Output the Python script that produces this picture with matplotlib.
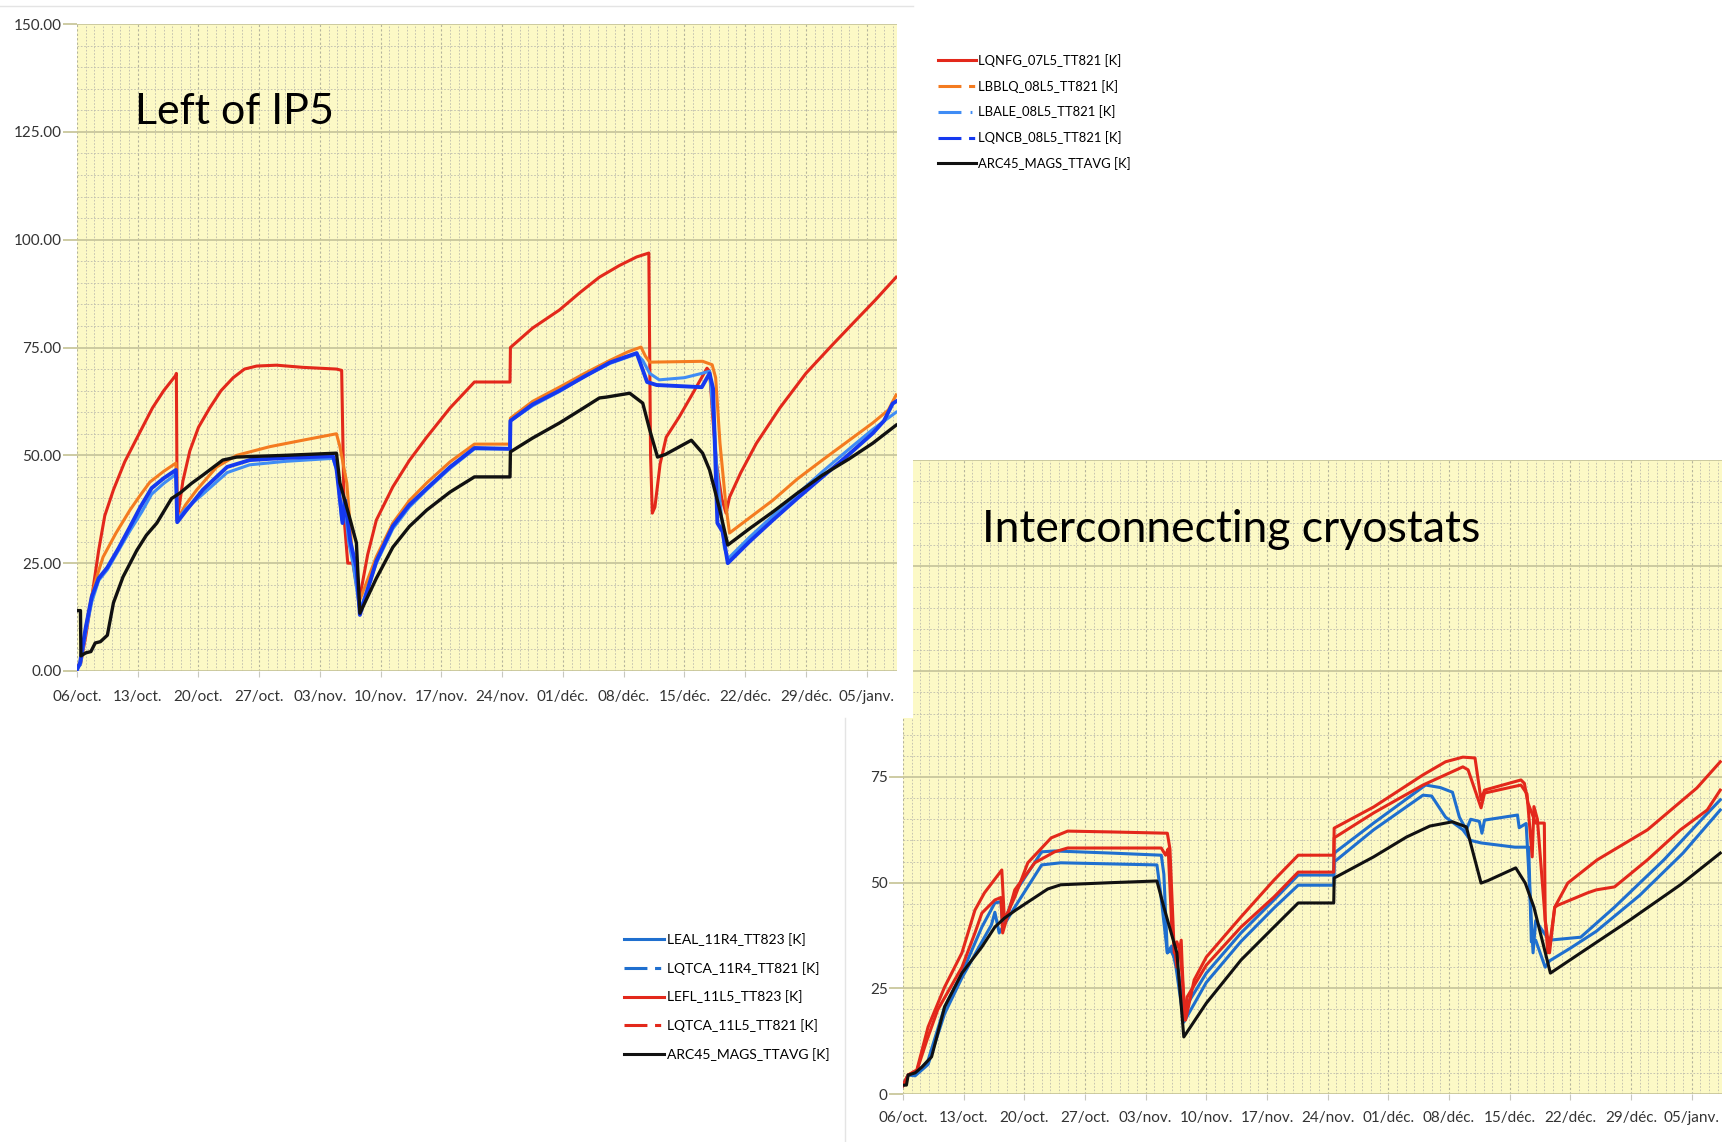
import numpy as np
import matplotlib
matplotlib.use('Agg')
import matplotlib.pyplot as plt
from matplotlib.lines import Line2D
from matplotlib.patches import Rectangle

W, H = 1731, 1142

week_labels = ['06/oct.', '13/oct.', '20/oct.', '27/oct.', '03/nov.', '10/nov.', '17/nov.',
               '24/nov.', '01/déc.', '08/déc.', '15/déc.', '22/déc.', '29/déc.', '05/janv.']

# ─── Left of IP5 (days since 06/oct., temperature in K)
#
lqnfg_days = [0, 0.4, 1.0, 1.7, 2.5, 3.2, 4.2, 5.5, 6.9, 8.7, 10.0, 11.4, 11.45, 11.55, 12.2, 13, 14,
              15.3, 16.6, 18, 19.3, 20.7, 23, 26, 29.9, 30.5, 30.8, 31.2, 31.8, 32.2, 32.6, 33.5,
              34.5, 36.4, 38.3, 40.3, 43, 45.8, 49.9, 49.95, 52.5, 55.6, 58, 60.2, 62.5, 64.5, 65.9,
              66.1, 66.3, 66.6, 67.2, 67.9, 69.4, 71, 72.6, 72.9, 73.3, 73.7, 74.3, 74.8, 75.2, 76.5,
              78.3, 81, 84, 87, 89.8, 92, 94.4]
lqnfg_vals = [1, 1.5, 8, 17, 28, 36, 42, 48.5, 54, 61, 65, 68.6, 69, 35, 44, 51, 56.5,
              61, 65, 68, 70, 70.7, 70.9, 70.4, 70, 69.7, 35, 25, 25, 20, 17.2, 27,
              35, 42.7, 48.8, 54.2, 61, 67, 67, 75, 79.5, 83.7, 87.8, 91.3, 94, 96, 96.9,
              50, 36.6, 38, 48, 54.2, 58.9, 64.5, 70.2, 69.5, 58, 48, 40, 36.6, 40.3, 46,
              52.8, 61, 69, 75.5, 81.4, 86, 91.3]

lbblq_days = [0, 0.4, 1.0, 1.7, 2.3, 3.0, 4.5, 6.1, 7.2, 8.4, 10, 11.4, 11.55, 12.5, 13.8, 16.1,
              18.4, 22.2, 26, 29.9, 30.3, 31.1, 31.8, 32.6, 34.5, 36.4, 38.3, 40.3, 43, 45.8,
              49.9, 49.95, 52.5, 55.6, 58.5, 61.4, 63.5, 65, 65.5, 66, 69, 72.1, 73.2, 73.6,
              74.1, 74.8, 75.2, 77.5, 80.2, 83, 85.9, 89, 91.7, 93.5, 94.4]
lbblq_vals = [1, 2, 10, 17.5, 22, 26.4, 32, 37.3, 40.5, 43.8, 46.3, 48.2, 35, 38.5, 42, 47.3,
              50, 52, 53.5, 55, 52, 43.5, 25, 16.5, 26.5, 34.3, 39.5, 43.6, 48.5, 52.6,
              52.6, 58.6, 62.5, 65.8, 69, 72, 74, 75.1, 73, 71.6, 71.7, 71.8, 71, 68,
              52.8, 38, 32, 35.5, 39.6, 44.5, 48.9, 53.5, 57.5, 60.5, 64]

lbale_days = [0, 0.4, 1.0, 1.7, 2.5, 3.5, 4.8, 6.1, 7.5, 8.6, 10, 11.4, 11.55, 12.5, 14.5, 17.3,
              19.9, 24, 29.5, 30.0, 30.5, 30.8, 31.3, 31.8, 32.6, 34.5, 36.4, 38.3, 40.3, 43,
              45.8, 49.9, 49.95, 52.5, 55.6, 58.5, 61.4, 64.5, 65.2, 66, 67.1, 70, 72, 72.9,
              73.5, 73.7, 74.6, 75.0, 77.5, 80.2, 83, 85.9, 89, 91.7, 94.4]
lbale_vals = [0.5, 1.5, 9, 16, 21, 23.5, 28, 32.5, 37, 41, 43.5, 45.6, 35, 37.5, 41, 46,
              47.8, 48.6, 49.3, 46, 35, 40, 30, 25, 14, 25, 33, 38, 42, 47,
              51.5, 51.5, 58, 61.5, 64.8, 68.3, 71.3, 73.5, 72, 69, 67.5, 68, 69, 69.5,
              55, 48, 28.7, 26, 31, 36, 41, 46.2, 51.5, 56, 60]

lqncb_days = [0, 0.35, 1.0, 1.7, 2.5, 3.5, 4.8, 6.1, 7.3, 8.6, 10, 11.4, 11.55, 12.5, 14.5, 17.3,
              19.9, 24, 29.5, 29.9, 30.6, 30.9, 31.5, 32.2, 32.6, 34.5, 36.4, 38.3, 40.3, 43,
              45.8, 49.9, 49.95, 52.5, 55.6, 58.5, 61.4, 64.5, 65.2, 65.7, 66.8, 72, 72.9, 73.3,
              73.8, 74.4, 75.0, 77.5, 80.2, 83, 85.9, 89, 91.7, 93, 94, 94.4]
lqncb_vals = [0.3, 1.9, 10, 17.2, 21.5, 24, 28.5, 33.4, 38, 42.4, 44.7, 46.6, 34.5, 37, 42, 47.3,
              48.9, 49.4, 49.8, 47, 34.3, 39.6, 30, 24, 13, 25.5, 33.6, 38.5, 42.3, 47.3,
              51.7, 51.5, 58, 61.8, 65, 68.3, 71.5, 73.7, 69.8, 67, 66.3, 65.8, 69, 65.5,
              34.3, 32.3, 25, 30, 35, 40, 45, 50.3, 55.1, 58, 62, 62.5]

arc1_days = [0, 0.4, 0.45, 1.0, 1.6, 2.1, 2.7, 3.5, 4.2, 5.3, 6.9, 8.0, 9.2, 10.9, 11.9, 13.2,
             14.5, 16.8, 18.4, 24, 29.9, 30.3, 31.4, 32.2, 32.6, 34.5, 36.4, 38.3, 40.3, 43,
             45.8, 49.9, 49.95, 52.5, 55.6, 58, 60.2, 61, 63.7, 65.2, 66, 66.9, 67.8, 70.8,
             72.1, 72.9, 74, 75, 77.5, 80.2, 83, 85.9, 89, 91.7, 94.4]
arc1_vals = [14, 14, 3.5, 4.2, 4.5, 6.5, 6.8, 8.3, 15.8, 21.8, 28, 31.5, 34.3, 40, 41.3, 43.5,
             45.4, 48.9, 49.6, 50, 50.5, 43.6, 35.7, 29.7, 13.4, 21.5, 28.7, 33.5, 37.3, 41.5,
             45, 45, 50.8, 54, 57.5, 60.5, 63.3, 63.5, 64.4, 62.1, 55.9, 49.6, 50.2, 53.5,
             50.5, 46.6, 38, 29.2, 33, 36.9, 41.2, 45.4, 49.2, 52.8, 57]

# ─── Interconnecting cryostats
#
arc2_days = [0, 0.4, 0.6, 1.4, 2.2, 3.3, 4.8, 6.8, 9.1, 10.6, 11.7, 13, 14.4, 16.7, 18.2, 24,
             29.3, 30.1, 31.6, 32.4, 35, 39, 42.8, 45.6, 49.7, 49.75, 54.3, 58.1, 60.8, 63.4,
             65, 65.7, 66.7, 67.5, 70.7, 71.8, 72.8, 74.7, 78.2, 83.9, 89.7, 94.3]
arc2_vals = [2.1, 2.1, 4.5, 5, 6.4, 8.8, 20.6, 28.6, 34.8, 39.5, 41.6, 43.5, 45.4, 48.5, 49.5, 50,
             50.4, 44.2, 33.4, 13.5, 21.5, 31.7, 39.5, 45.2, 45.2, 51.1, 56.1, 60.8, 63.4, 64.4,
             63.2, 57.7, 49.9, 50.5, 53.5, 49.9, 44.2, 28.6, 33.4, 41.2, 49.5, 57]

lefl_days = [0, 0.6, 1.6, 2.9, 4.8, 6.8, 8.3, 9.4, 11.4, 11.7, 12.9, 14.4, 17.1, 19, 24, 30.5,
             30.8, 31.3, 31.6, 32.0, 32.6, 33.6, 35, 39, 42.8, 45.6, 49.7, 49.75, 54.3, 60,
             62.6, 64.6, 66, 66.7, 67.1, 71.3, 71.7, 72.1, 73, 74, 74.1, 74.6, 75.2, 76.7,
             80.1, 85.9, 91.6, 94.3]
lefl_vals = [2, 4.5, 5.7, 15.9, 25.3, 33.4, 43.5, 47.6, 53, 41.2, 46.6, 54.7, 60.6, 62.2, 62, 61.7,
             58, 33.4, 36, 33.4, 17.5, 27, 32.4, 41.9, 50.6, 56.5, 56.5, 62.9, 67.9, 75.5,
             78.6, 79.7, 79.5, 69.6, 71.9, 74.3, 73.5, 68.9, 64.1, 64.1, 41.2, 33.4, 44.2, 49.9,
             55.4, 62.5, 72.4, 78.6]

lqtca_l_days = [0, 0.6, 1.6, 2.8, 4, 6.8, 8.3, 9.1, 10.6, 11.3, 11.5, 12.9, 15.2, 17.5, 19, 29.8,
                30.3, 30.6, 31.0, 31.6, 32.1, 32.2, 32.5, 32.8, 35, 39, 42.8, 45.6, 49.7, 49.75,
                54.3, 60, 64.6, 65.2, 66.7, 67.1, 71.3, 72.0, 72.6, 72.8, 73.2, 74.4, 74.8, 75.2,
                75.6, 79, 80, 82.1, 85.9, 89.7, 92.8, 94.3]
lqtca_l_vals = [2, 4.5, 5.5, 13, 19.9, 30, 38.1, 42.8, 45.9, 46.5, 38.1, 48.3, 54.7, 57.3, 58.2, 58.2,
                56.5, 58, 40, 30, 36.4, 31, 17.5, 23, 30.5, 39.5, 46.6, 52.5, 52.5, 60.6,
                66.5, 73.1, 77.4, 76.7, 67.7, 71.2, 73.1, 71, 56.1, 68, 65, 33.4, 38, 44.2,
                44.7, 47.6, 48.3, 49, 55.4, 62.5, 67.2, 71.9]

leal_days = [0, 0.6, 1.4, 2.9, 4.8, 6.8, 9.1, 10.6, 11.3, 11.5, 12.9, 16, 17.5, 24, 29.8, 30.1,
             30.5, 30.9, 31.6, 32.4, 35, 39, 42.8, 45.6, 49.7, 49.75, 54.3, 60.3, 62, 63.4,
             64.2, 65, 65.5, 66.5, 66.8, 67.1, 70.9, 71.1, 71.9, 72.5, 72.7, 73.0, 74.0, 74.6,
             78.2, 82.1, 87.8, 92.4, 94.3]
leal_vals = [2, 4.5, 4.5, 8, 20.6, 28.6, 39.5, 45.2, 45.5, 39.5, 47.6, 57.3, 57.5, 57, 56.5, 52,
             33.4, 34, 31, 19.9, 28.6, 38.1, 45.9, 51.8, 51.8, 57, 64.1, 73.1, 72.5, 71.4,
             65.5, 62.5, 65, 64.5, 61.7, 64.8, 66, 63, 64, 41.2, 33.4, 41, 38, 36.4,
             37.1, 44.2, 55.4, 65.5, 69.6]

lqtca_r_days = [0, 0.6, 1.4, 2.9, 4.8, 6.8, 9.1, 10.2, 10.6, 11.1, 12.9, 16, 18.2, 29.3, 29.7,
                30.5, 31, 31.5, 32.4, 35, 39, 42.8, 45.6, 49.7, 49.75, 54.3, 60, 61, 62.6, 64.6,
                65.5, 66.7, 70.6, 72.2, 72.5, 73, 74.1, 74.6, 77, 80, 85, 90, 94.3]
lqtca_r_vals = [2, 4.5, 4.3, 7, 19, 27.5, 36, 40, 43, 38.1, 44.2, 54.2, 54.7, 54.2, 48,
                33.4, 35, 30, 17, 26.4, 36.1, 44, 49.4, 49.4, 54.9, 62.5, 70.7, 70.5, 65.5, 62.5,
                60, 59.4, 58.4, 58.4, 36, 36.4, 30, 31.5, 34.5, 38.5, 47, 57, 67.2]

RED = '#e3281b'
ORANGE = '#f47b20'
LIGHTBLUE = '#3f8cf5'
DARKBLUE = '#1539f0'
MIDBLUE = '#1f6fcf'
BLACK = '#111111'
FONT = ['Lato', 'DejaVu Sans']

plt.rcParams['font.family'] = FONT

fig = plt.figure(figsize=(W / 100, H / 100), dpi=100)
fig.patch.set_facecolor('white')


def px_axes(left, top, right, bottom):
    return fig.add_axes([left / W, 1 - bottom / H, (right - left) / W, (bottom - top) / H])


def style_axes(ax, ylabels, xpad):
    ax.set_facecolor('#fcf9c6')
    ax.set_xlim(0, 94.5)
    ax.set_ylim(0, 150)
    ax.set_xticks(np.arange(0, 92, 7))
    ax.set_xticklabels(week_labels)
    ax.set_xticks(np.arange(0, 95), minor=True)
    ax.set_yticks(np.arange(0, 151, 25))
    ax.set_yticklabels(ylabels)
    ax.set_yticks(np.arange(0, 151, 5), minor=True)
    ax.grid(which='minor', color='#bdbcae', lw=0.6, ls=(0, (2, 2)))
    ax.grid(which='major', axis='x', color='#b5b49c', lw=0.8, ls=(0, (2, 2)))
    ax.grid(which='major', axis='y', color='#c9c79c', lw=1.3)
    for s in ax.spines.values():
        s.set_visible(False)
    ax.tick_params(which='minor', length=0)
    ax.tick_params(axis='x', which='major', direction='out', length=4, width=0.8,
                   color='#c8c8c0', pad=xpad, labelsize=11, labelcolor='#333333')
    ax.tick_params(axis='y', which='major', direction='out', length=10, width=1.3,
                   color='#c9c79c', pad=1, labelsize=11, labelcolor='#333333')
    ax.set_axisbelow(True)


# ─── Lower-right panel: interconnecting cryostats
#
ax2 = px_axes(903, 460, 1722, 1094)
ax2.set_zorder(0)
style_axes(ax2, [f'{v:d}' for v in range(0, 151, 25)], 8)
ax2.plot(lqtca_r_days, lqtca_r_vals, color=MIDBLUE, lw=2.2)
ax2.plot(leal_days, leal_vals, color=MIDBLUE, lw=2.2)
ax2.plot(lqtca_l_days, lqtca_l_vals, color=RED, lw=2.2)
ax2.plot(lefl_days, lefl_vals, color=RED, lw=2.2)
ax2.plot(arc2_days, arc2_vals, color=BLACK, lw=2.2)
fig.text(982 / W, 1 - 529 / H, 'Interconnecting cryostats', fontsize=32, va='center',
         ha='left', color='black', zorder=3)

# white page behind the upper-left panel
fig.add_artist(Rectangle((0, 1 - 718 / H), 913 / W, 718 / H, transform=fig.transFigure,
                         facecolor='white', edgecolor='none', zorder=1))
fig.add_artist(Line2D([0, 913 / W], [1 - 6 / H, 1 - 6 / H], color='#e4e4e4', lw=1, zorder=1.5))
fig.add_artist(Line2D([845 / W, 845 / W], [0, 1 - 718 / H], color='#e4e4e4', lw=1, zorder=1.5))

# ─── Upper-left panel: left of IP5
#
ax1 = px_axes(77, 24, 897, 671)
ax1.set_zorder(2)
style_axes(ax1, [f'{v:.2f}' for v in range(0, 151, 25)], 10)
ax1.plot(lqnfg_days, lqnfg_vals, color=RED, lw=2.2)
ax1.plot(lbblq_days, lbblq_vals, color=ORANGE, lw=2.2)
ax1.plot(lbale_days, lbale_vals, color=LIGHTBLUE, lw=2.2)
ax1.plot(lqncb_days, lqncb_vals, color=DARKBLUE, lw=2.8)
ax1.plot(arc1_days, arc1_vals, color=BLACK, lw=2.4)
ax1.text((135 - 77) / 820, 1 - (112 - 24) / 647, 'Left of IP5', transform=ax1.transAxes,
         fontsize=31, va='center', ha='left', color='black')

# ─── Legends
#
dash = dict(dashes=(7.5, 2.5, 2, 10))
dot = dict(dashes=(7.5, 3, 0.6, 10))
handles1 = [Line2D([], [], color=RED, lw=2.2),
            Line2D([], [], color=ORANGE, lw=2.2, **dash),
            Line2D([], [], color=LIGHTBLUE, lw=2.2, **dot),
            Line2D([], [], color=DARKBLUE, lw=2.2, **dash),
            Line2D([], [], color=BLACK, lw=2.2)]
labels1 = ['LQNFG_07L5_TT821 [K]', 'LBBLQ_08L5_TT821 [K]', 'LBALE_08L5_TT821 [K]',
           'LQNCB_08L5_TT821 [K]', 'ARC45_MAGS_TTAVG [K]']
fig.legend(handles1, labels1, loc='upper left', bbox_to_anchor=(938 / W, 1 - 54 / H),
           frameon=False, fontsize=9.4, handlelength=2.9, handletextpad=0.2,
           labelspacing=0.98, borderpad=0, borderaxespad=0)

handles2 = [Line2D([], [], color=MIDBLUE, lw=2.2),
            Line2D([], [], color=MIDBLUE, lw=2.2, **dash),
            Line2D([], [], color=RED, lw=2.2),
            Line2D([], [], color=RED, lw=2.2, **dash),
            Line2D([], [], color=BLACK, lw=2.2)]
labels2 = ['LEAL_11R4_TT823 [K]', 'LQTCA_11R4_TT821 [K]', 'LEFL_11L5_TT823 [K]',
           'LQTCA_11L5_TT821 [K]', 'ARC45_MAGS_TTAVG [K]']
fig.legend(handles2, labels2, loc='upper left', bbox_to_anchor=(624 / W, 1 - 933 / H),
           frameon=False, fontsize=10, handlelength=2.9, handletextpad=0.2,
           labelspacing=1.14, borderpad=0, borderaxespad=0)

fig.savefig('out.png', dpi=100, facecolor='white')
